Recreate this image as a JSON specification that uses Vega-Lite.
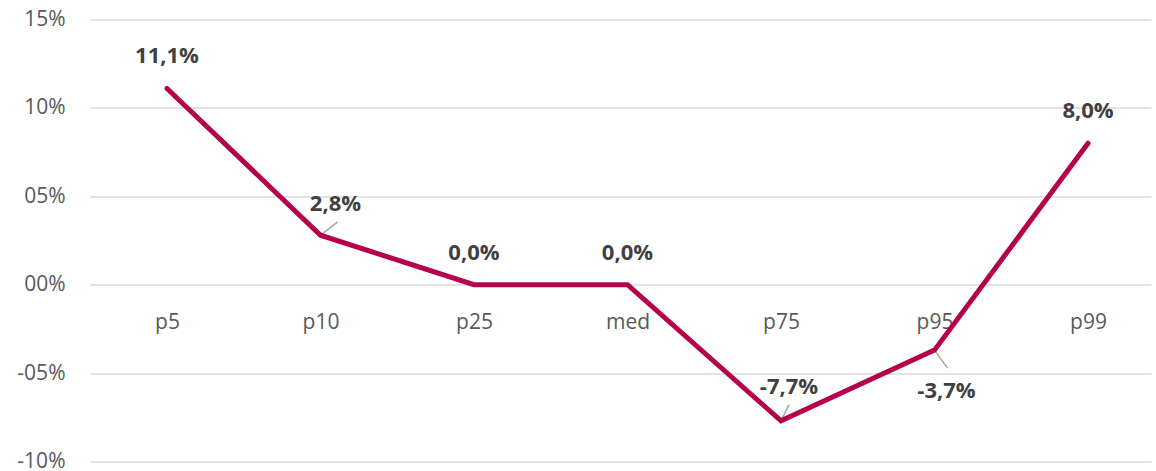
{
  "$schema": "https://vega.github.io/schema/vega-lite/v6.json",
  "autosize": "none",
  "width": 1061,
  "height": 442,
  "padding": {"left": 90, "top": 19.5, "right": 5, "bottom": 9.5},
  "background": "white",
  "config": {
    "view": {"stroke": null},
    "font": "Open Sans"
  },
  "data": {
    "values": [
      {"p": "p5", "v": 11.1},
      {"p": "p10", "v": 2.8},
      {"p": "p25", "v": 0.0},
      {"p": "med", "v": 0.0},
      {"p": "p75", "v": -7.7},
      {"p": "p95", "v": -3.7},
      {"p": "p99", "v": 8.0}
    ]
  },
  "transform": [
    {"calculate": "(datum.v < 0 ? '-' : '') + replace(format(abs(datum.v), '.1f'), '.', ',') + '%'", "as": "lbl"}
  ],
  "encoding": {
    "x": {
      "field": "p",
      "type": "nominal",
      "sort": ["p5", "p10", "p25", "med", "p75", "p95", "p99"],
      "scale": {"type": "point", "padding": 0.456, "align": 0.55},
      "axis": {
        "title": null,
        "orient": "bottom",
        "offset": -177.2,
        "domain": false,
        "ticks": false,
        "grid": false,
        "labelAngle": 0,
        "labelPadding": 27,
        "labelFont": "Open Sans",
        "labelFontSize": 21,
        "labelColor": "#595959"
      }
    },
    "y": {
      "field": "v",
      "type": "quantitative",
      "scale": {"domain": [-10, 15], "nice": false, "zero": false},
      "axis": {
        "title": null,
        "values": [-10, -5, 0, 5, 10, 15],
        "labelExpr": "(datum.value < 0 ? '-' : '') + format(abs(datum.value), '02d') + '%'",
        "domain": false,
        "ticks": false,
        "grid": true,
        "gridColor": "#d9d9d9",
        "gridWidth": 1.5,
        "labelPadding": 25,
        "labelFont": "Open Sans",
        "labelFontSize": 21,
        "labelColor": "#595959"
      }
    }
  },
  "layer": [
    {
      "transform": [{"filter": "datum.p == 'p10'"}],
      "mark": {"type": "rule", "color": "#a6a6a6", "strokeWidth": 1.5, "x2Offset": 17, "y2Offset": -13},
      "encoding": {"x2": {"field": "p"}, "y2": {"field": "v"}}
    },
    {
      "transform": [{"filter": "datum.p == 'p75'"}],
      "mark": {"type": "rule", "color": "#a6a6a6", "strokeWidth": 1.5, "x2Offset": 8, "y2Offset": -16},
      "encoding": {"x2": {"field": "p"}, "y2": {"field": "v"}}
    },
    {
      "transform": [{"filter": "datum.p == 'p95'"}],
      "mark": {"type": "rule", "color": "#a6a6a6", "strokeWidth": 1.5, "x2Offset": 13, "y2Offset": 18},
      "encoding": {"x2": {"field": "p"}, "y2": {"field": "v"}}
    },
    {
      "mark": {"type": "line", "color": "#B5004B", "strokeWidth": 5, "strokeCap": "round", "strokeJoin": "miter"}
    },
    {
      "transform": [{"filter": "datum.p == 'p5' || datum.p == 'p25' || datum.p == 'med' || datum.p == 'p99'"}],
      "mark": {"type": "text", "dy": -32, "fontSize": 22, "fontWeight": "bold", "color": "#404040", "font": "Open Sans", "baseline": "middle", "align": "center"},
      "encoding": {"text": {"field": "lbl"}}
    },
    {
      "transform": [{"filter": "datum.p == 'p10'"}],
      "mark": {"type": "text", "dy": -31, "dx": 15, "fontSize": 22, "fontWeight": "bold", "color": "#404040", "font": "Open Sans", "baseline": "middle", "align": "center"},
      "encoding": {"text": {"field": "lbl"}}
    },
    {
      "transform": [{"filter": "datum.p == 'p75'"}],
      "mark": {"type": "text", "dy": -34, "dx": 8, "fontSize": 22, "fontWeight": "bold", "color": "#404040", "font": "Open Sans", "baseline": "middle", "align": "center"},
      "encoding": {"text": {"field": "lbl"}}
    },
    {
      "transform": [{"filter": "datum.p == 'p95'"}],
      "mark": {"type": "text", "dy": 41, "dx": 12, "fontSize": 22, "fontWeight": "bold", "color": "#404040", "font": "Open Sans", "baseline": "middle", "align": "center"},
      "encoding": {"text": {"field": "lbl"}}
    }
  ]
}
